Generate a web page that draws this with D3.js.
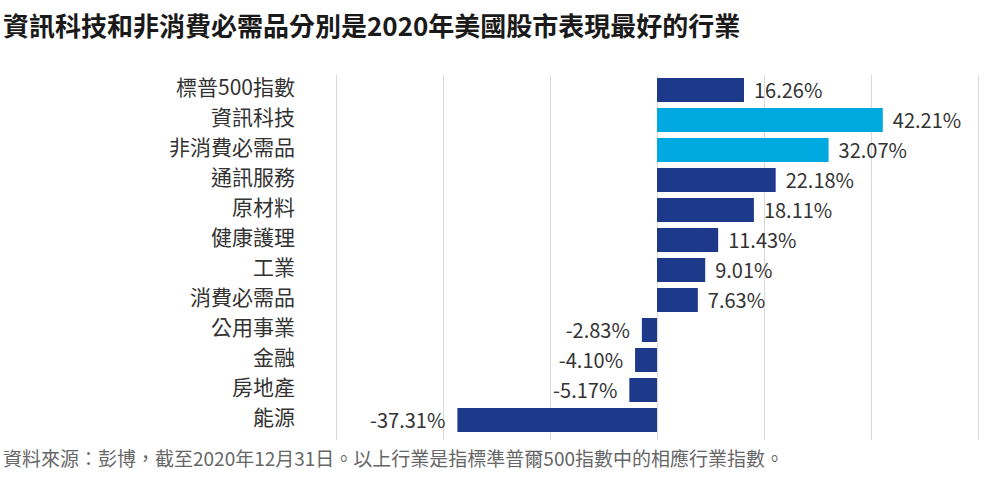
<!DOCTYPE html>
<html>
<head>
<meta charset="utf-8">
<script src="https://cdn.jsdelivr.net/npm/d3@7"></script>
<style>
html,body{margin:0;padding:0;background:#fff;}
svg{display:block;}
</style>
</head>
<body>
<svg id="chart" width="1005" height="489"></svg>
<script>
const title = "資訊科技和非消費必需品分別是2020年美國股市表現最好的行業";
const footnote = "資料來源：彭博，截至2020年12月31日。以上行業是指標準普爾500指數中的相應行業指數。";
const categories = ["標普500指數","資訊科技","非消費必需品","通訊服務","原材料","健康護理","工業","消費必需品","公用事業","金融","房地產","能源"];
const values = [16.26,42.21,32.07,22.18,18.11,11.43,9.01,7.63,-2.83,-4.10,-5.17,-37.31];
const highlighted = ["資訊科技","非消費必需品"];
const gridTicks = [-60,-40,-20,0,20,40,60];

const svg = d3.select("#chart");
const font = "'Noto Sans CJK TC','Noto Sans',sans-serif";

const x = d3.scaleLinear().domain([-60,60]).range([336,978]);
const y = d3.scaleBand().domain(categories).range([75,435]).paddingInner(0.2).paddingOuter(0.1);

svg.append("text").attr("x",3).attr("y",36).text(title)
  .attr("font-family",font).attr("font-weight","bold").attr("font-size",26)
  .attr("fill","#1a1a1a");

// grid
svg.append("g").attr("transform","translate(0,440)")
  .call(d3.axisBottom(x).tickValues(gridTicks).tickSize(-365).tickFormat(""))
  .call(g=>g.select(".domain").remove())
  .call(g=>g.selectAll(".tick line").attr("stroke","#d9d9d9").attr("stroke-width",1));

// bars
svg.append("g").selectAll("rect").data(categories).join("rect")
  .attr("x",(d,i)=>x(Math.min(0,values[i])))
  .attr("y",d=>y(d))
  .attr("width",(d,i)=>Math.abs(x(values[i])-x(0)))
  .attr("height",y.bandwidth())
  .attr("fill",d=>highlighted.includes(d)?"#00a9e0":"#1d3a8a");

// category labels
svg.append("g").selectAll("text").data(categories).join("text")
  .attr("x",295).attr("y",d=>y(d)+y.bandwidth()/2-2.5)
  .attr("dy","0.36em").attr("text-anchor","end")
  .attr("font-family",font).attr("font-size",21).attr("fill","#333")
  .text(d=>d);

// value labels
svg.append("g").selectAll("text").data(categories).join("text")
  .attr("x",(d,i)=>values[i]>=0? x(values[i])+10 : x(values[i])-12)
  .attr("y",d=>y(d)+y.bandwidth()/2+1)
  .attr("dy","0.36em")
  .attr("text-anchor",(d,i)=>values[i]>=0?"start":"end")
  .attr("font-family",font).attr("font-size",20).attr("fill","#333")
  .text((d,i)=>values[i].toFixed(2)+"%");

svg.append("text").attr("x",3).attr("y",466).text(footnote)
  .attr("font-family",font).attr("font-size",19).attr("fill","#666");
</script>
</body>
</html>
